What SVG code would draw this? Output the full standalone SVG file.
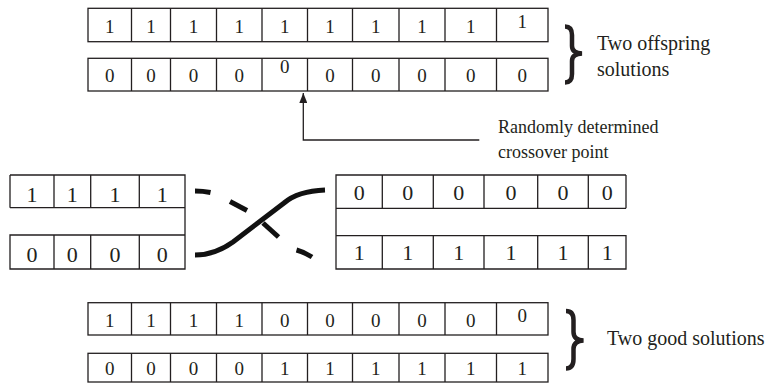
<svg xmlns="http://www.w3.org/2000/svg" width="767" height="383" viewBox="0 0 767 383">
<style>
.c{fill:#fff;stroke:#231f20;stroke-width:1.3}
.ln{fill:none;stroke:#231f20;stroke-width:1.3}
.d{font-family:"Liberation Serif","Times New Roman",serif;font-size:19px;fill:#231f20;text-anchor:middle}
.dm{font-family:"Liberation Serif","Times New Roman",serif;font-size:22px;fill:#231f20;text-anchor:middle}
.lb{font-family:"Liberation Serif","Times New Roman",serif;font-size:20px;fill:#231f20}
.lbs{font-family:"Liberation Serif","Times New Roman",serif;font-size:18px;fill:#231f20}
.br{fill:none;stroke:#231f20;stroke-width:4.5}
.cx{fill:none;stroke:#111;stroke-width:5;stroke-linecap:butt}
</style>
<defs>
<marker id="ah" markerWidth="10" markerHeight="8" refX="10" refY="4" orient="auto" markerUnits="userSpaceOnUse" viewBox="0 0 10 8">
<path d="M0,0 L10,4 L0,8 Z" fill="#231f20"/>
</marker>
</defs>

<g id="offspring1">
<rect class="c" x="88" y="8.3" width="460" height="33.4"/>
<path class="ln" d="M131.5,8.3V41.7M170.5,8.3V41.7M216.5,8.3V41.7M262,8.3V41.7M307.5,8.3V41.7M352.5,8.3V41.7M399,8.3V41.7M445,8.3V41.7M496.5,8.3V41.7"/>
<text class="d" y="33.3"><tspan x="109.8">1</tspan><tspan x="151">1</tspan><tspan x="193.5">1</tspan><tspan x="239.3">1</tspan><tspan x="284.8">1</tspan><tspan x="330">1</tspan><tspan x="375.8">1</tspan><tspan x="422">1</tspan><tspan x="470.8">1</tspan></text>
<text class="d" x="522.3" y="28.3">1</text>
</g>

<g id="offspring2">
<rect class="c" x="88" y="58.3" width="460" height="32.7"/>
<path class="ln" d="M131.5,58.3V91M170.5,58.3V91M216.5,58.3V91M262,58.3V91M307.5,58.3V91M352.5,58.3V91M399,58.3V91M445,58.3V91M496.5,58.3V91"/>
<text class="d" y="81.7"><tspan x="109.8">0</tspan><tspan x="151">0</tspan><tspan x="193.5">0</tspan><tspan x="239.3">0</tspan><tspan x="330">0</tspan><tspan x="375.8">0</tspan><tspan x="422">0</tspan><tspan x="470.8">0</tspan><tspan x="522.3">0</tspan></text>
<text class="d" x="284.8" y="73.3">0</text>
</g>

<g id="brace-offspring">
<path class="br" d="M565,26.5 Q572,26.5 572,35 L572,46 Q572,53 582,53.5 Q572,54 572,61 L572,74 Q572,82.5 565,82.5"/>
<text class="lb" x="597" y="50">Two offspring</text>
<text class="lb" x="597" y="76">solutions</text>
</g>

<g id="crossover-label">
<text class="lbs" x="498" y="133">Randomly determined</text>
<text class="lbs" x="498" y="158">crossover point</text>
</g>

<g id="parent-left">
<path class="ln" d="M10,175H185V269H10V235H185M10,207.7H185M10,175V207.7M54,175V207.7M90.7,175V207.7M139.3,175V207.7M54,235V269M90.7,235V269M139.3,235V269"/>
<text class="dm" y="201.7"><tspan x="32">1</tspan><tspan x="72.3">1</tspan><tspan x="115">1</tspan><tspan x="162.2">1</tspan></text>
<text class="dm" y="261.7"><tspan x="32">0</tspan><tspan x="72.3">0</tspan><tspan x="115">0</tspan><tspan x="162.2">0</tspan></text>
</g>

<g id="parent-right">
<path class="ln" d="M626,175H336V269H626V235.7H336M336,208.3H626M626,175V208.3M382.3,175V208.3M433.3,175V208.3M484,175V208.3M537.7,175V208.3M588.3,175V208.3M382.3,235.7V269M433.3,235.7V269M484,235.7V269M537.7,235.7V269M588.3,235.7V269"/>
<text class="dm" y="200"><tspan x="359.2">0</tspan><tspan x="407.8">0</tspan><tspan x="458.7">0</tspan><tspan x="510.9">0</tspan><tspan x="563">0</tspan><tspan x="607.2">0</tspan></text>
<text class="dm" y="260"><tspan x="359.2">1</tspan><tspan x="407.8">1</tspan><tspan x="458.7">1</tspan><tspan x="510.9">1</tspan><tspan x="563">1</tspan><tspan x="607.2">1</tspan></text>
</g>

<g id="good1">
<rect class="c" x="88" y="302.7" width="460" height="32.3"/>
<path class="ln" d="M131.5,302.7V335M170.5,302.7V335M216.5,302.7V335M262,302.7V335M307.5,302.7V335M352.5,302.7V335M399,302.7V335M445,302.7V335M496.5,302.7V335"/>
<text class="d" y="326.7"><tspan x="109.8">1</tspan><tspan x="151">1</tspan><tspan x="193.5">1</tspan><tspan x="239.3">1</tspan><tspan x="284.8">0</tspan><tspan x="330">0</tspan><tspan x="375.8">0</tspan><tspan x="422">0</tspan><tspan x="470.8">0</tspan></text>
<text class="d" x="522.3" y="321.7">0</text>
</g>

<g id="good2">
<rect class="c" x="88" y="353.3" width="460" height="28.7"/>
<path class="ln" d="M131.5,353.3V382M170.5,353.3V382M216.5,353.3V382M262,353.3V382M307.5,353.3V382M352.5,353.3V382M399,353.3V382M445,353.3V382M496.5,353.3V382"/>
<text class="d" y="375"><tspan x="109.8">0</tspan><tspan x="151">0</tspan><tspan x="193.5">0</tspan><tspan x="239.3">0</tspan><tspan x="284.8">1</tspan><tspan x="330">1</tspan><tspan x="375.8">1</tspan><tspan x="422">1</tspan><tspan x="470.8">1</tspan><tspan x="522.3">1</tspan></text>
</g>

<g id="brace-good">
<path class="br" d="M566,311 Q573.5,311 573.5,320 L573.5,332 Q573.5,340 583.5,340.5 Q573.5,341 573.5,349 L573.5,359 Q573.5,368.5 566,368.5"/>
<text class="lb" x="607" y="345">Two good solutions</text>
</g>

<g id="connectors">
<path class="ln" d="M479.3,140H303.3V93" marker-end="url(#ah)"/>
<path class="cx" d="M195,191 Q203,191 210.5,192.5"/>
<path class="cx" d="M230,201.5 L247,210.5"/>
<path class="cx" d="M263,223 L278.5,237"/>
<path class="cx" d="M296.5,250 Q304,252 312,257"/>
<path class="cx" d="M195,255 Q215,255 233,242 L284,203 Q298,191 325,190"/>
</g>
</svg>
